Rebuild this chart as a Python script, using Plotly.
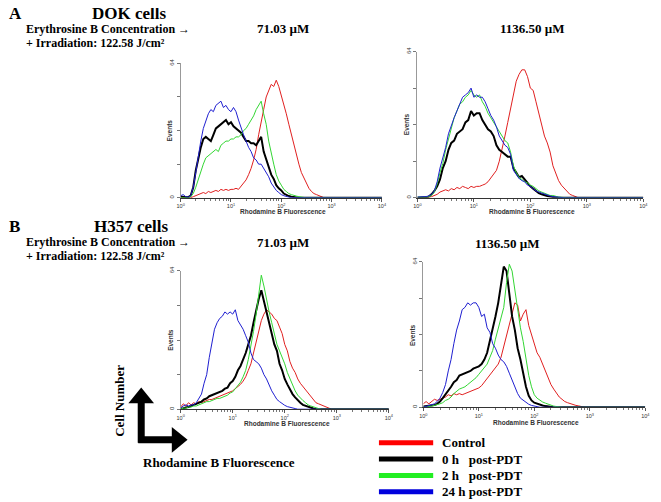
import plotly.graph_objects as go

# log10 of Rhodamine B fluorescence channel (last point = 10^4 end of axis)
LOG_CH = [0.00, 0.05, 0.10, 0.15, 0.20, 0.25, 0.30, 0.35, 0.40, 0.45,
          0.50, 0.55, 0.60, 0.65, 0.70, 0.75, 0.80, 0.85, 0.90, 0.95,
          1.00, 1.05, 1.10, 1.15, 1.20, 1.25, 1.30, 1.35, 1.40, 1.45,
          1.50, 1.55, 1.60, 1.65, 1.70, 1.75, 1.80, 1.85, 1.90, 1.95,
          2.00, 2.05, 2.10, 2.15, 2.20, 2.25, 2.30, 2.35, 2.40, 2.45,
          2.50, 2.55, 2.60, 2.65, 2.70, 2.75, 2.80, 2.85, 2.90, 4.00]

# A: DOK cells, 71.03 uM
A1_CONTROL = [0, 0, 0, 0, 0, 0.5, 1, 1.5, 2, 2.5,
              2, 3, 2.5, 3, 3.5, 3, 4, 3.5, 4, 3.5,
              4, 4, 4.5, 4, 5.5, 7, 8.5, 11, 14, 18,
              23, 30, 37, 42, 48, 51, 54, 53, 56, 53,
              49, 45, 40, 35, 30, 25, 20, 16, 12, 9.5,
              7, 4.5, 3, 2, 1.5, 1, 0.5, 0, 0, 0]
A1_0H = [0.5, 0.5, 0.3, 0.3, 1, 5, 13, 19, 24, 28,
         29, 28, 27, 30, 33, 34, 35, 36, 37, 35,
         36, 34, 33, 32, 31, 29, 27, 27, 26, 26,
         25, 27, 29, 22, 18, 14, 11, 9, 6, 4.5,
         3.5, 2, 1.2, 0.8, 0.5, 0.3, 0, 0, 0, 0,
         0, 0, 0, 0, 0, 0, 0, 0, 0, 0]
A1_2H = [0, 0, 0, 0, 0.5, 2, 5, 9, 12, 16,
         19, 20, 21, 22, 23, 22, 25, 26, 27, 27,
         28, 28, 29, 29, 30, 32, 33, 35, 37, 39,
         42, 44, 46, 40, 35, 27, 21, 16, 11, 8,
         6, 4, 3, 2, 1.5, 1, 0.8, 0.5, 0.3, 0,
         0, 0, 0, 0, 0, 0, 0, 0, 0, 0]
A1_24H = [1, 1.5, 0.5, 0.3, 1, 5, 12, 20, 27, 33,
          37, 40, 42, 41, 44, 45, 46, 43, 44, 42,
          41, 43, 41, 37, 33, 30, 27, 24, 22, 19,
          18, 16, 16, 14, 12, 10, 7, 5, 3.5, 2.5,
          1.5, 1, 0.5, 0.3, 0, 0, 0, 0, 0, 0,
          0, 0, 0, 0, 0, 0, 0, 0, 0, 0]

# A: DOK cells, 1136.50 uM
A2_CONTROL = [0, 0, 0, 0, 0.3, 0.5, 1, 1.5, 2.5, 3,
              3.5, 3, 4, 3.5, 4.5, 4, 5, 4.5, 4, 5,
              4.5, 5, 5, 5.5, 6, 7, 8.5, 10, 12, 16,
              21, 27, 33, 39, 44, 51, 54, 56, 56, 53,
              48, 47, 42, 37, 31, 27, 24, 20, 14, 11,
              7.5, 5.5, 4, 2.5, 1.5, 1, 0.5, 0, 0, 0]
A2_0H = [0, 0, 0.3, 0.3, 0.5, 1.5, 3, 5, 8, 13,
         16, 21, 24, 25, 28, 29, 30, 33, 34, 38,
         36, 37, 37, 34, 32, 30, 29, 27, 23, 21,
         20, 19, 18, 18, 13, 11, 9, 9.5, 8, 6,
         5, 4, 3, 2, 1.5, 1, 0.8, 0.5, 0.3, 0,
         0, 0, 0, 0, 0, 0, 0, 0, 0, 0]
A2_2H = [0.3, 0.2, 0.3, 0.3, 0.5, 1, 2.5, 6, 11, 15,
         21, 26, 31, 35, 38, 41, 42, 44, 45, 47,
         45, 44, 45, 42, 40, 37, 35, 33, 31, 29,
         27, 25, 24, 20, 14, 11, 9, 8, 7, 6.5,
         5.5, 5, 4, 3, 2.5, 2, 1.5, 1, 1, 0.5,
         0.3, 0.2, 0, 0, 0, 0, 0, 0, 0, 0]
A2_24H = [0.3, 0.3, 0.5, 0.5, 0.8, 1.5, 3, 7, 13, 17,
          22, 28, 32, 35, 38, 41, 44, 45, 46, 48,
          44, 45, 44, 44, 42, 39, 36, 34, 31, 27,
          25, 23, 22, 19, 12, 10, 8.5, 7.5, 7, 5.5,
          5, 4, 3, 2.5, 2, 1.5, 1, 0.8, 0.5, 0.3,
          0.3, 0, 0, 0, 0, 0, 0, 0, 0, 0]

# B: H357 cells, 71.03 uM
B1_CONTROL = [1, 2.5, 1.5, 3, 2, 3, 2.5, 3.5, 3, 3.5,
              4, 4.5, 4.5, 5, 5.5, 6, 6.5, 7, 7.5, 8,
              8.5, 9.5, 10.5, 11.5, 13, 15, 18, 21, 26, 31,
              36, 41, 44, 46, 45, 44, 42, 41, 38, 35,
              30, 27, 22, 19, 17, 14, 12, 10.5, 8.5, 7,
              5.5, 4.5, 3, 2.5, 2, 1.5, 1, 0.5, 0, 0]
B1_0H = [0, 0.5, 0.8, 1, 1.5, 2, 2.5, 3, 3.5, 4.5,
         5, 6, 6.5, 7, 7.5, 8, 8.5, 9.5, 10, 12,
         13, 15, 18, 20, 23, 26, 30, 34, 40, 46,
         51, 55, 50, 45, 40, 34, 30, 27, 21, 18,
         14, 11.5, 9, 7, 5.5, 4, 3, 2, 1.5, 1,
         0.5, 0.3, 0, 0, 0, 0, 0, 0, 0, 0]
B1_2H = [0, 0.5, 0.5, 1, 1, 1.5, 1.5, 2, 2.5, 3,
         3.5, 3.5, 4, 4.5, 5, 5, 5.5, 6, 6.5, 7.5,
         8, 9.5, 11, 12.5, 15, 18, 23, 29, 36, 44,
         53, 62, 57, 50, 45, 40, 35, 30, 27, 24,
         21, 17, 14, 11, 8.5, 6.5, 5, 4, 3, 2,
         1.5, 1, 0.5, 0.3, 0, 0, 0, 0, 0, 0]
B1_24H = [0.5, 1.5, 2, 1.5, 2, 2, 3, 5, 7, 12,
          16, 24, 31, 37, 40, 42, 43, 45, 44, 45,
          44, 46, 41, 39, 37, 34, 31, 26, 23, 22,
          21, 19, 16, 14, 11, 8.5, 6.5, 4.5, 3.5, 2.5,
          1.8, 1.2, 0.8, 0.5, 0.3, 0, 0, 0, 0, 0,
          0, 0, 0, 0, 0, 0, 0, 0, 0, 0]

# B: H357 cells, 1136.50 uM
B2_CONTROL = [1.5, 2.5, 1.5, 2.5, 3.5, 3, 3.5, 4, 4.5, 5.5,
              5, 6, 5.5, 6, 5.5, 6, 6.5, 7, 7.5, 8,
              8.5, 9.5, 11, 13, 14, 15.5, 17, 19, 22, 27,
              32, 37, 42, 46, 45, 38, 41, 43, 36, 32,
              27, 24, 22, 19, 16, 13, 10, 8, 6, 4.5,
              3.5, 2.5, 2, 1.5, 1.2, 0.8, 0.6, 0.4, 0, 0]
B2_0H = [0.3, 0.5, 0.5, 0.8, 1, 1.5, 2.5, 4, 5.5, 7.5,
         9, 11, 12, 14, 14.5, 15, 15.5, 16, 17, 17.5,
         18, 19, 21, 24, 29, 35, 40, 46, 54, 62,
         60, 49, 40, 34, 26, 21, 14.5, 9, 5, 3,
         2, 1.5, 1.2, 0.8, 0.5, 0.3, 0, 0, 0, 0,
         0, 0, 0, 0, 0, 0, 0, 0, 0, 0]
B2_2H = [0, 0, 0.3, 0.5, 0.8, 1, 1.5, 2, 3, 3.5,
         4.5, 6, 7, 8, 8.5, 9, 10, 11, 12, 13,
         14.5, 16, 17.5, 19, 22, 25, 30, 35, 39, 44,
         55, 63, 60, 51, 44, 35, 29, 21, 14, 9,
         5.5, 4, 3, 2.3, 1.8, 1.3, 0.9, 0.5, 0.3, 0,
         0, 0, 0, 0, 0, 0, 0, 0, 0, 0]
B2_24H = [0, 0.3, 0.7, 1, 1.5, 2.5, 4, 6.5, 10, 16,
          21, 28, 34, 38, 43, 44, 46, 45, 46, 46,
          44, 40, 41, 35, 33, 28, 26, 23, 21, 20,
          18, 15, 12, 9, 6, 4, 3, 2, 1.3, 0.8,
          0.5, 0.3, 0, 0, 0, 0, 0, 0, 0, 0,
          0, 0, 0, 0, 0, 0, 0, 0, 0, 0]

SERIES_NAMES = ["Control", "0 h\u00a0\u00a0 post-PDT", "2 h\u00a0\u00a0 post-PDT", "24 h post-PDT"]
COLORS = ["#e02020", "#000000", "#33d633", "#1f1fd0"]
LEGEND_COLORS = ["#ff0000", "#000000", "#22ee22", "#0000dd"]
WIDTHS = [1, 2, 1, 1]

PANEL_DATA = [
    [A1_CONTROL, A1_0H, A1_2H, A1_24H],
    [A2_CONTROL, A2_0H, A2_2H, A2_24H],
    [B1_CONTROL, B1_0H, B1_2H, B1_24H],
    [B2_CONTROL, B2_0H, B2_2H, B2_24H],
]

W, H = 661, 502
OFF = 8  # page body margin


def fx(p):
    return (p - OFF) / W


def fy(p):
    return 1 - (p - OFF) / H


# plot boxes in page pixels: left, right, top, bottom, x-title gap
BOXES = [(179, 383, 59, 195, 13.5), (419, 648, 47, 195, 13.5),
         (179, 390, 269, 409, 14.5), (425, 650, 260, 407, 15)]

fl = [10 ** v for v in LOG_CH]
SANS = "Liberation Sans"
SERIF = "Liberation Serif"
annotations = []


def ann(text, x, y, size, xanchor="left", angle=0, family=SERIF, color="black"):
    annotations.append(dict(
        text="<b>" + text + "</b>", x=fx(x), y=fy(y), xref="paper", yref="paper",
        xanchor=xanchor, yanchor="middle", showarrow=False, textangle=angle,
        borderpad=0, font=dict(family=family, size=size, color=color),
    ))


fig = go.Figure()
layout = {}
for i, curves in enumerate(PANEL_DATA):
    sfx = "" if i == 0 else str(i + 1)
    for k in range(4):
        fig.add_trace(go.Scatter(
            x=fl, y=curves[k], mode="lines",
            line=dict(color=COLORS[k], width=WIDTHS[k]),
            xaxis="x" + sfx, yaxis="y" + sfx,
            showlegend=False, hoverinfo="skip",
        ))
    l, r, t, b, gap = BOXES[i]
    layout["xaxis" + sfx] = dict(
        domain=[fx(l), fx(r)], anchor="y" + sfx, type="log", range=[0, 4],
        tickvals=[1, 10, 100, 1000, 10000],
        ticktext=["10<sup>0</sup>", "10<sup>1</sup>", "10<sup>2</sup>",
                  "10<sup>3</sup>", "10<sup>4</sup>"],
        tickfont=dict(size=5.5, color="#333", family=SANS),
        ticks="outside", ticklen=3, tickcolor="#555",
        minor=dict(ticks="outside", ticklen=2, dtick="D1", tickcolor="#777"),
        showline=True, linecolor="#333", linewidth=1,
        showgrid=False, zeroline=False,
    )
    layout["yaxis" + sfx] = dict(
        domain=[fy(b), fy(t)], anchor="x" + sfx, range=[0, 64],
        tickvals=[0, 64], ticktext=["0", "64"],
        tickangle=-90, tickfont=dict(size=6, color="#333", family=SANS),
        ticks="outside", ticklen=3, tickcolor="#777",
        minor=dict(ticks="outside", ticklen=3, tickvals=[16, 32, 48], tickcolor="#777"),
        showline=True, linecolor="#999", linewidth=1,
        showgrid=False, zeroline=False,
    )
    ann("Rhodamine B Fluorescence", (l + r) / 2 + 2, b + gap, 6.5, "center",
        family=SANS, color="#333")
    ann("Events", l - 11, (t + b) / 2, 6.5, "center", -90, family=SANS, color="#333")

ann("A", 4, 9, 17)
ann("DOK cells", 88, 9, 17)
ann("Erythrosine B Concentration \u2192", 21, 24, 12)
ann("+ Irradiation: 122.58 J/cm\u00b2", 21, 38.5, 12)
ann("71.03 \u00b5M", 283, 24, 13, "center")
ann("1136.50 \u00b5M", 536, 24, 13, "center")

ann("B", 4, 224, 17)
ann("H357 cells", 90, 224, 17)
ann("Erythrosine B Concentration \u2192", 21, 240, 12)
ann("+ Irradiation: 122.58 J/cm\u00b2", 21, 254, 12)
ann("71.03 \u00b5M", 283, 240, 13, "center")
ann("1136.50 \u00b5M", 510, 241, 13, "center")

ann("Cell Number", 117, 401, 13, "center", -90)
ann("Rhodamine B Fluorescence", 218, 463, 13, "center")

shapes = []
# L-shaped arrow
shapes.append(dict(type="line", xref="paper", yref="paper",
                   x0=fx(139), x1=fx(139), y0=fy(443), y1=fy(402),
                   line=dict(color="black", width=7)))
shapes.append(dict(type="line", xref="paper", yref="paper",
                   x0=fx(136), x1=fx(171), y0=fy(440), y1=fy(440),
                   line=dict(color="black", width=7)))
shapes.append(dict(type="path", xref="paper", yref="paper",
                   path=f"M {fx(126)} {fy(403)} L {fx(139)} {fy(387)} L {fx(152)} {fy(403)} Z",
                   fillcolor="black", line=dict(width=0)))
shapes.append(dict(type="path", xref="paper", yref="paper",
                   path=f"M {fx(170)} {fy(427)} L {fx(186)} {fy(440)} L {fx(170)} {fy(453)} Z",
                   fillcolor="black", line=dict(width=0)))

# legend
LEG_Y = [443, 459.5, 476, 492.5]
for k in range(4):
    shapes.append(dict(type="line", xref="paper", yref="paper",
                       x0=fx(380), x1=fx(435), y0=fy(LEG_Y[k]), y1=fy(LEG_Y[k]),
                       line=dict(color=LEGEND_COLORS[k], width=5)))
    ann(SERIES_NAMES[k], 443, LEG_Y[k], 13)

fig.update_layout(
    width=W, height=H,
    margin=dict(l=0, r=0, t=0, b=0),
    paper_bgcolor="white", plot_bgcolor="white",
    annotations=annotations, shapes=shapes,
    **layout,
)

fig.write_html("out.html")
